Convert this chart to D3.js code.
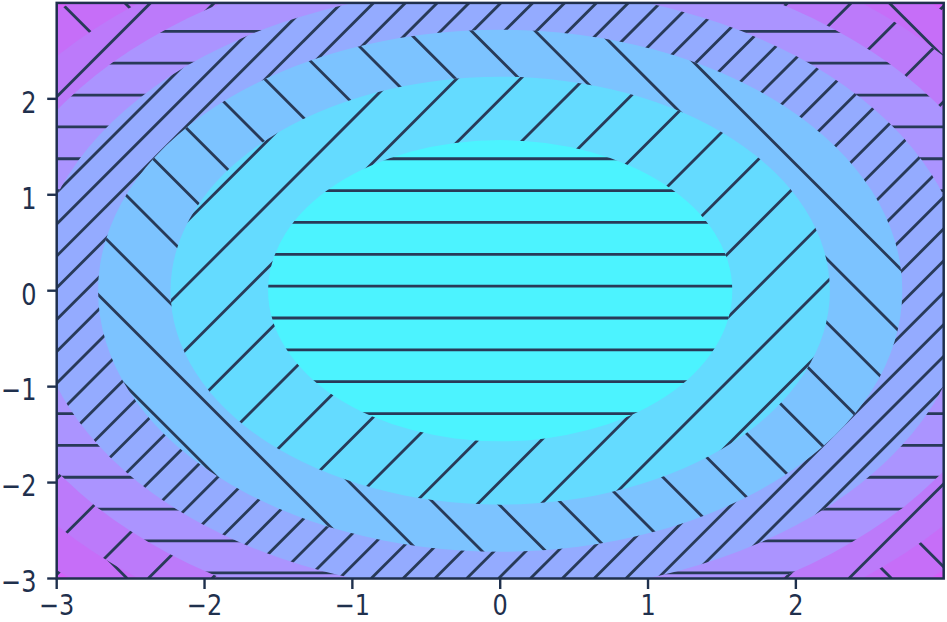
<!DOCTYPE html>
<html>
<head>
<meta charset="utf-8">
<script src="https://cdn.jsdelivr.net/npm/d3@7"></script>
<style>
  body { margin: 0; background: #fff; }
</style>
</head>
<body>
<svg id="chart"></svg>
<script>
// band boundaries (radius in data units), innermost band first
const bandRadii = [0, 1.57, 2.23, 2.72, 3.16, 3.54, 3.87, 4.18];
const bandHatches = ["-", "/", "\\", "//", "-", "/", "\\", "//"];
const bandColors = ["#4cf3ff", "#64dbff", "#7cc3ff", "#94abff", "#ab94ff", "#bc7afa", "#c66ef8", "#d660fa"];
const xTicks = [-3, -2, -1, 0, 1, 2];
const yTicks = [-3, -2, -1, 0, 1, 2];

const width = 947, height = 622;
const ink = "#1f304d";
const hatchInk = "#283a58";

const svg = d3.select("#chart")
    .attr("width", width)
    .attr("height", height);

const x = d3.scaleLinear().domain([-3, 3]).range([56.7, 943.7]);
const y = d3.scaleLinear().domain([-3, 3]).range([578.5, 2.9]);

const L = x.range()[0], R = x.range()[1], T = y.range()[1], B = y.range()[0];

const defs = svg.append("defs");
defs.append("clipPath").attr("id", "plot-area")
    .append("rect")
    .attr("x", L).attr("y", T)
    .attr("width", R - L).attr("height", B - T);

// region outside a circle of radius r (evenodd with a big rectangle)
function bandPath(r) {
    let d = `M${L - 50},${T - 50}H${R + 50}V${B + 50}H${L - 50}Z`;
    if (r > 0) {
        const cx = x(0), cy = y(0);
        const rx = x(r) - x(0), ry = y(0) - y(r);
        d += `M${cx - rx},${cy}a${rx},${ry} 0 1,0 ${2 * rx},0a${rx},${ry} 0 1,0 ${-2 * rx},0Z`;
    }
    return d;
}

// hatch spacing and phase, as in the reference
const P = 31.85;
function hatchLines(h) {
    if (h === "-") {
        const c0 = 31.35;
        return d3.range(Math.floor((T - c0) / P) - 1, Math.ceil((B - c0) / P) + 1).map(k => {
            const yy = c0 + k * P;
            return {x1: L, y1: yy, x2: R, y2: yy};
        });
    }
    if (h === "/" || h === "//") {
        const step = h === "/" ? 2 * P : P, c0 = 26;
        return d3.range(Math.floor((L + T - c0) / step) - 1, Math.ceil((R + B - c0) / step) + 1).map(k => {
            const c = c0 + k * step;
            return {x1: c - T, y1: T, x2: c - B, y2: B};
        });
    }
    const step = 2 * P, c0 = 58.3;
    return d3.range(Math.floor((L - B - c0) / step) - 1, Math.ceil((R - T - c0) / step) + 1).map(k => {
        const c = c0 + k * step;
        return {x1: c + T, y1: T, x2: c + B, y2: B};
    });
}

const plot = svg.append("g").attr("clip-path", "url(#plot-area)");

bandRadii.forEach((r, i) => {
    const d = bandPath(r);
    defs.append("clipPath").attr("id", `band-${i}`)
        .append("path")
        .attr("d", d)
        .attr("clip-rule", "evenodd");

    plot.append("path")
        .attr("d", d)
        .attr("fill-rule", "evenodd")
        .attr("fill", bandColors[i]);

    plot.append("g")
        .attr("clip-path", `url(#band-${i})`)
        .selectAll("line")
        .data(hatchLines(bandHatches[i]))
        .join("line")
        .attr("x1", d => d.x1).attr("y1", d => d.y1)
        .attr("x2", d => d.x2).attr("y2", d => d.y2)
        .attr("stroke", hatchInk)
        .attr("stroke-width", 2.8);
});

// frame
svg.append("rect")
    .attr("x", L).attr("y", T)
    .attr("width", R - L).attr("height", B - T)
    .attr("fill", "none")
    .attr("stroke", ink)
    .attr("stroke-width", 2.5);

const fmt = d3.format("d");

// x ticks
const xt = svg.append("g").selectAll("g").data(xTicks).join("g")
    .attr("transform", d => `translate(${x(d)},0)`);
xt.append("line")
    .attr("y1", B).attr("y2", B + 10.5)
    .attr("stroke", ink).attr("stroke-width", 2.4);
xt.append("text")
    .attr("transform", `translate(0,${B + 36.5}) scale(1,1.2)`)
    .attr("text-anchor", "middle")
    .style("font-family", "DejaVu Sans")
    .style("font-size", "24px")
    .attr("fill", ink)
    .text(d => fmt(d));

// y ticks
const yt = svg.append("g").selectAll("g").data(yTicks).join("g")
    .attr("transform", d => `translate(0,${y(d)})`);
yt.append("line")
    .attr("x1", L - 9.5).attr("x2", L)
    .attr("stroke", ink).attr("stroke-width", 2.4);
yt.append("text")
    .attr("transform", "translate(36.5,13.8) scale(1,1.22)")
    .attr("text-anchor", "end")
    .style("font-family", "DejaVu Sans")
    .style("font-size", "24px")
    .attr("fill", ink)
    .text(d => fmt(d));
</script>
</body>
</html>
